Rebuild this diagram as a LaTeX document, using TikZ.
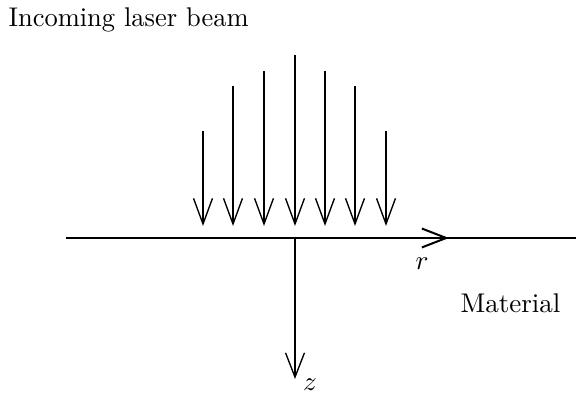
\documentclass[tikz,border=0pt]{standalone}
\usetikzlibrary{arrows.meta}
\begin{document}
\begin{tikzpicture}[x=0.37pt,y=-0.37pt,
  ln/.style={line width=0.5pt},
  beam/.style={ln,-{Straight Barb[length=9.5pt,width=7pt]}},
  axis/.style={ln,-{Straight Barb[length=9pt,width=7pt]}},
  lbl/.style={inner sep=0pt}]
\useasboundingbox (0,0) rectangle (576,393);
\node[lbl,anchor=base west,xscale=0.98] (title) at (8,27) {Incoming laser beam};
\node[lbl,anchor=base west] (mat) at (460,313) {Material};
% surface
\coordinate (sl) at (66,238);
\coordinate (sr) at (576,238);
\coordinate (o) at (295,238);
\draw[ln] (sl) -- (sr);
% r axis
\coordinate (rs) at (310,238);
\coordinate (re) at (449,238);
\draw[axis,line width=0.75pt] (rs) -- (re);
\node[lbl,anchor=base] (r) at (422,270) {$r$};
% z axis
\coordinate (ze) at (295,379);
\draw[axis] (o) -- (ze);
\node[lbl,anchor=base] (z) at (310,391) {$z$};
% beams
\foreach \i/\x/\t in {1/203/131,2/233/86,3/264/71,4/295/55,5/325/71,6/355/86,7/386/131}{
  \coordinate (b\i s) at (\x,\t);
  \coordinate (b\i e) at (\x,226);
  \draw[beam] (b\i s) -- (b\i e);
}
\end{tikzpicture}
\end{document}
